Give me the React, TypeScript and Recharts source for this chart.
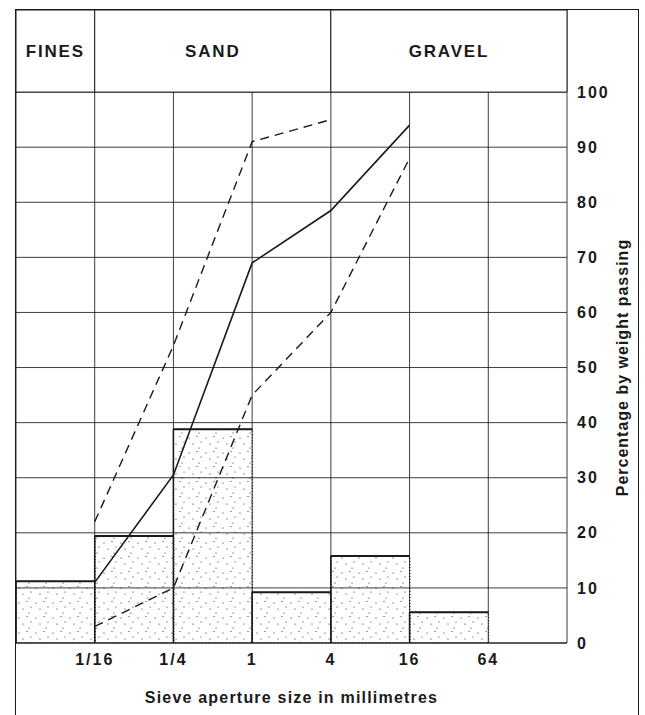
import {
  ComposedChart,
  Bar,
  Line,
  XAxis,
  YAxis,
  CartesianGrid,
  ReferenceArea,
} from "recharts";

// percentage retained between successive sieves (histogram)
const binLabels = ["<1/16", "1/16-1/4", "1/4-1", "1-4", "4-16", "16-64", ">64"];
const retained = [11.2, 19.4, 38.8, 9.2, 15.8, 5.6, 0];

// sieve sizes (boundaries between the columns)
const sieveLabels = ["1/16", "1/4", "1", "4", "16", "64"];

// cumulative percentage passing, read at each sieve
const passingSample = [11, 30.5, 69, 78.5, 94];
const passingUpper = [22, 54, 91, 95, null];
const passingLower = [3, 10, 45, 60, 88];

const yTicks = [0, 10, 20, 30, 40, 50, 60, 70, 80, 90, 100];

const zones = [
  { name: "FINES", from: 0, to: 1 },
  { name: "SAND", from: 1, to: 4 },
  { name: "GRAVEL", from: 4, to: 7 },
];

const INK = "#1a1a1a";
const FONT = "'Liberation Sans', Arial, Helvetica, sans-serif";
const Y_MAX = 114.9;

const barData = binLabels.map((bin, i) => ({ bin, retained: retained[i] }));
const toLine = (vals: (number | null)[]) =>
  vals.map((v, i) => ({ x: i + 1, v }));

const StippleBar = (props: any) => {
  const { x, y, width, height } = props;
  if (!height || height <= 0) return null;
  return (
    <g>
      <rect x={x} y={y} width={width} height={height} fill="url(#stipple)" />
      <rect
        x={x}
        y={y}
        width={width}
        height={height}
        fill="none"
        stroke={INK}
        strokeWidth={1.3}
        strokeDasharray="1 2"
      />
      <line x1={x} y1={y} x2={x} y2={y + height} stroke={INK} strokeWidth={1.5} />
      <line x1={x} y1={y} x2={x + width} y2={y} stroke={INK} strokeWidth={2} />
    </g>
  );
};

const zoneLabel = (name: string) => (props: any) => {
  const vb = props.viewBox;
  return (
    <text
      x={vb.x + vb.width / 2}
      y={vb.y + vb.height / 2}
      textAnchor="middle"
      dominantBaseline="central"
      fontSize={17}
      fontWeight="bold"
      letterSpacing={1.8}
      fill={INK}
    >
      {name}
    </text>
  );
};

const YLabel = (props: any) => {
  const vb = props.viewBox;
  const cx = vb.x + 56;
  const cy = vb.y + vb.height * (1 - 50 / Y_MAX);
  return (
    <text
      x={cx}
      y={cy}
      transform={`rotate(-90 ${cx} ${cy})`}
      textAnchor="middle"
      dominantBaseline="central"
      fontSize={16}
      fontWeight="bold"
      letterSpacing={1}
      fill={INK}
    >
      Percentage by weight passing
    </text>
  );
};

const XLabel = (props: any) => {
  const vb = props.viewBox;
  return (
    <text
      x={vb.x + vb.width / 2}
      y={vb.y + 60}
      textAnchor="middle"
      fontSize={16}
      fontWeight="bold"
      letterSpacing={1.2}
      fill={INK}
    >
      Sieve aperture size in millimetres
    </text>
  );
};

const tickStyle = {
  fill: INK,
  fontSize: 16,
  fontWeight: "bold",
  letterSpacing: 2,
};

export default function App() {
  return (
    <div
      style={{
        position: "absolute",
        left: 0,
        top: 0,
        width: 645,
        height: 715,
        background: "#fff",
        fontFamily: FONT,
      }}
    >
      <div
        style={{
          position: "absolute",
          left: 15,
          top: 9,
          width: 624,
          height: 706,
          boxSizing: "border-box",
          borderLeft: `1px solid ${INK}`,
          borderTop: `1px solid ${INK}`,
          borderRight: `1px solid ${INK}`,
        }}
      />
      <ComposedChart
        width={645}
        height={715}
        data={barData}
        margin={{ top: 10, left: 16, right: 8, bottom: 12 }}
        barCategoryGap={0}
        style={{ position: "absolute", left: 0, top: 0 }}
      >
        <defs>
          <pattern id="stipple" width="17" height="15" patternUnits="userSpaceOnUse">
            <circle cx="2" cy="3" r="0.6" fill={INK} />
            <circle cx="10" cy="1.5" r="0.55" fill={INK} />
            <circle cx="6" cy="9" r="0.6" fill={INK} />
            <circle cx="14" cy="7" r="0.55" fill={INK} />
            <circle cx="12" cy="13" r="0.6" fill={INK} />
          </pattern>
        </defs>
        <CartesianGrid
          xAxisId="num"
          stroke={INK}
          strokeWidth={1}
          strokeOpacity={0.85}
        />
        <XAxis
          xAxisId="num"
          dataKey="x"
          type="number"
          domain={[0, 7]}
          ticks={[0, 1, 2, 3, 4, 5, 6, 7]}
          tickFormatter={(v: number) => sieveLabels[v - 1] ?? ""}
          height={60}
          axisLine={{ stroke: INK, strokeWidth: 1.2 }}
          tickLine={false}
          tickSize={0}
          tickMargin={11}
          tick={tickStyle}
          interval={0}
          allowDataOverflow
          label={<XLabel />}
        />
        <XAxis xAxisId="cat" dataKey="bin" hide height={0} />
        <YAxis
          orientation="right"
          domain={[0, Y_MAX]}
          ticks={yTicks}
          width={70}
          axisLine={false}
          tickLine={false}
          tickSize={0}
          tickMargin={10}
          tick={{ ...tickStyle, textAnchor: "start" }}
          interval={0}
          allowDataOverflow
          label={<YLabel />}
        />
        {zones.map((z) => (
          <ReferenceArea
            key={z.name}
            xAxisId="num"
            x1={z.from}
            x2={z.to}
            y1={100}
            y2={Y_MAX}
            fill="#fff"
            fillOpacity={1}
            stroke={INK}
            strokeWidth={1}
            ifOverflow="visible"
            label={zoneLabel(z.name)}
          />
        ))}
        <Bar
          xAxisId="cat"
          dataKey="retained"
          shape={<StippleBar />}
          isAnimationActive={false}
        />
        <Line
          xAxisId="num"
          data={toLine(passingSample)}
          dataKey="v"
          stroke={INK}
          strokeWidth={1.6}
          dot={false}
          isAnimationActive={false}
        />
        <Line
          xAxisId="num"
          data={toLine(passingUpper)}
          dataKey="v"
          stroke={INK}
          strokeWidth={1.4}
          strokeDasharray="9 6"
          dot={false}
          isAnimationActive={false}
        />
        <Line
          xAxisId="num"
          data={toLine(passingLower)}
          dataKey="v"
          stroke={INK}
          strokeWidth={1.4}
          strokeDasharray="9 6"
          dot={false}
          isAnimationActive={false}
        />
      </ComposedChart>
    </div>
  );
}
